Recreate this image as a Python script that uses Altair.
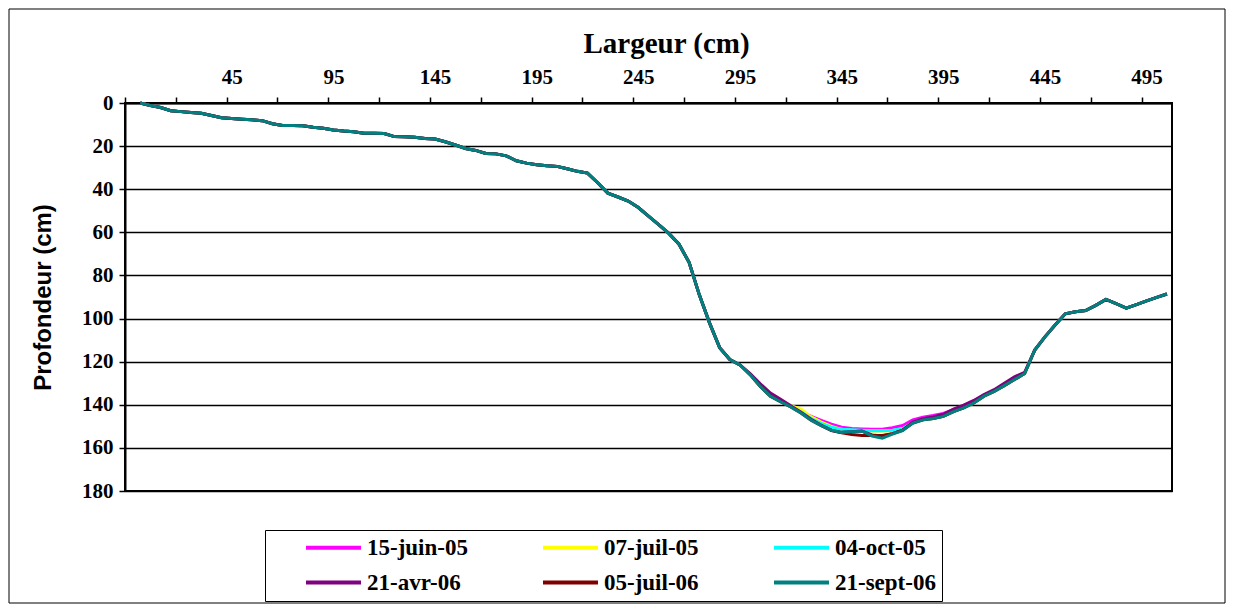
import altair as alt
import pandas as pd

# Category positions (cm) along the cross-section
largeur = [0, 5, 10, 15, 20, 25, 30, 35, 40, 45,
           50, 55, 60, 65, 70, 75, 80, 85, 90, 95,
           100, 105, 110, 115, 120, 125, 130, 135, 140, 145,
           150, 155, 160, 165, 170, 175, 180, 185, 190, 195,
           200, 205, 210, 215, 220, 225, 230, 235, 240, 245,
           250, 255, 260, 265, 270, 275, 280, 285, 290, 295,
           300, 305, 310, 315, 320, 325, 330, 335, 340, 345,
           350, 355, 360, 365, 370, 375, 380, 385, 390, 395,
           400, 405, 410, 415, 420, 425, 430, 435, 440, 445,
           450, 455, 460, 465, 470, 475, 480, 485, 490, 495,
           500, 505]

# Common part of the profile (all surveys coincide), cm 0..295
profil_debut = [0, 1.2, 2.1, 3.6, 4.0, 4.4, 4.8, 5.8, 6.8, 7.2,
                7.5, 7.8, 8.2, 9.6, 10.4, 10.4, 10.6, 11.3, 11.7, 12.5,
                13.0, 13.3, 14.0, 14.0, 14.2, 15.6, 15.7, 15.9, 16.5, 16.7,
                18.0, 19.5, 21.1, 22.0, 23.4, 23.6, 24.5, 26.8, 27.9, 28.6,
                29.1, 29.4, 30.5, 31.7, 32.5, 37.0, 41.8, 43.6, 45.5, 48.5,
                52.5, 56.4, 60.5, 65.5, 74.0, 89.0, 102.0, 113.5, 119.0, 121.5]

# Bottom of the channel, cm 300..435, one list per survey
fond_15juin05 = [126.0, 131.5, 136.0, 138.4, 140.5, 143.0, 145.4, 147.3, 149.0, 150.4,
                 151.0, 151.2, 151.3, 151.3, 150.6, 149.6, 147.0, 145.8, 145.0, 144.0,
                 142.3, 140.4, 138.3, 135.5, 133.5, 131.0, 128.3, 125.5]
fond_07juil05 = [126.0, 131.5, 136.0, 138.5, 140.4, 142.0, 145.6, 148.0, 150.0, 151.4,
                 151.8, 152.0, 152.2, 152.2, 152.0, 151.3, 148.3, 147.0, 146.4, 145.4,
                 143.2, 141.4, 139.2, 136.0, 133.8, 131.1, 128.3, 125.5]
fond_04oct05 = [126.0, 131.5, 136.0, 138.6, 140.9, 143.3, 146.4, 148.6, 150.4, 151.3,
                151.6, 151.8, 152.0, 152.0, 151.8, 151.0, 148.5, 147.0, 146.4, 145.4,
                143.2, 141.4, 139.2, 136.0, 133.8, 131.1, 128.3, 125.5]
fond_21avr06 = [125.5, 130.3, 134.6, 137.4, 140.5, 143.5, 146.7, 149.5, 151.8, 152.8,
                152.5, 152.2, 154.0, 154.5, 153.4, 151.8, 148.0, 146.5, 145.6, 144.4,
                142.0, 140.2, 138.0, 135.3, 133.0, 130.0, 127.0, 125.0]
fond_05juil06 = [126.0, 131.5, 136.0, 138.6, 141.0, 143.8, 147.2, 149.7, 152.0, 153.0,
                 153.8, 154.2, 154.3, 154.2, 153.4, 151.8, 148.5, 147.0, 146.4, 145.4,
                 143.2, 141.4, 139.2, 136.0, 133.8, 131.1, 128.3, 125.5]
fond_21sept06 = [126.0, 131.5, 136.0, 138.6, 141.0, 143.8, 147.2, 149.7, 151.8, 152.8,
                 152.5, 152.2, 154.5, 155.5, 153.6, 152.0, 148.5, 147.0, 146.4, 145.4,
                 143.2, 141.4, 139.2, 136.0, 133.8, 131.1, 128.3, 125.5]

# Right bank, cm 440..505 (all surveys coincide)
profil_fin = [114.6, 108.5, 103.0, 97.8, 96.8, 96.3, 93.9, 91.1, 93.1, 95.2,
              93.5, 91.8, 90.2, 88.6]

series_names = ["15-juin-05", "07-juil-05", "04-oct-05", "21-avr-06", "05-juil-06", "21-sept-06"]
series_colors = ["#FF00FF", "#FFFF00", "#00FFFF", "#800080", "#800000", "#008080"]
fonds = [fond_15juin05, fond_07juil05, fond_04oct05, fond_21avr06, fond_05juil06, fond_21sept06]

# axis tick positions (between categories) and label values
x_ticks = [-7.5, 17.5, 42.5, 67.5, 92.5, 117.5, 142.5, 167.5, 192.5, 217.5, 242.5,
           267.5, 292.5, 317.5, 342.5, 367.5, 392.5, 417.5, 442.5, 467.5, 492.5]
x_labels = [45, 95, 145, 195, 245, 295, 345, 395, 445, 495]
y_ticks = [0, 20, 40, 60, 80, 100, 120, 140, 160, 180]

rows = []
for k, (name, fond) in enumerate(zip(series_names, fonds)):
    prof = profil_debut + fond + profil_fin
    for xv, d in zip(largeur, prof):
        rows.append({"largeur": xv, "profondeur": d, "serie": name, "ordre": k})
df = pd.DataFrame(rows)

serif = "Liberation Serif"
sans = "Liberation Sans"

lines = alt.Chart(df).mark_line(strokeWidth=3).encode(
    x=alt.X(
        "largeur:Q",
        scale=alt.Scale(domain=[-7.5, 507.5], nice=False, zero=False),
        axis=alt.Axis(
            orient="top",
            values=x_ticks + x_labels,
            labelExpr="datum.value % 50 == 45 ? format(datum.value, 'd') : ''",
            tickOpacity={"condition": {"test": "datum.value % 50 == 45", "value": 0}, "value": 1},
            labelOverlap=False,
            labelFlush=False,
            grid=False,
            title="Largeur (cm)",
            titleFont=serif,
            titleFontSize=29,
            titleFontWeight="bold",
            titleColor="black",
            titleX=541,
            titlePadding=8,
            labelFont=serif,
            labelFontSize=21,
            labelFontWeight="bold",
            labelColor="black",
            labelPadding=10,
            tickSize=6,
            tickColor="black",
            tickWidth=1.5,
            domainColor="black",
            domainWidth=2,
        ),
    ),
    y=alt.Y(
        "profondeur:Q",
        scale=alt.Scale(domain=[0, 180], reverse=True, nice=False, zero=False),
        axis=alt.Axis(
            values=y_ticks,
            grid=True,
            gridColor="black",
            gridWidth=1.5,
            gridOpacity=1,
            title="Profondeur (cm)",
            titleFont=sans,
            titleFontSize=24,
            titleFontWeight="bold",
            titleColor="black",
            titlePadding=26,
            labelFont=serif,
            labelFontSize=21,
            labelFontWeight="bold",
            labelColor="black",
            labelPadding=6,
            tickSize=6,
            tickColor="black",
            tickWidth=1.5,
            domainColor="black",
            domainWidth=2,
        ),
    ),
    color=alt.Color(
        "serie:N",
        scale=alt.Scale(domain=series_names, range=series_colors),
        legend=alt.Legend(
            title=None,
            orient="none",
            legendX=140,
            legendY=427,
            columns=3,
            direction="horizontal",
            symbolType="M-4,0H4",
            symbolSize=189,
            symbolStrokeWidth=4,
            labelFont=serif,
            labelFontSize=23,
            labelFontWeight="bold",
            labelColor="black",
            labelOffset=22,
            columnPadding=40,
            rowPadding=11,
            padding=6,
            symbolOffset=51,
            strokeColor="black",
            fillColor="white",
        ),
    ),
    order=alt.Order("ordre:Q"),
    detail="serie:N",
)

frame = alt.Chart(pd.DataFrame({"f": [0]})).mark_rect(
    fillOpacity=0, stroke="black", strokeWidth=1
).encode(
    x=alt.value(-116), x2=alt.value(1100), y=alt.value(-94), y2=alt.value(500)
)

chart = alt.layer(frame, lines).properties(
    width=1047,
    height=388,
    autosize=alt.AutoSizeParams(type="none"),
    padding={"left": 117, "top": 95, "right": 54, "bottom": 113},
    background="white",
).configure_view(stroke="black", strokeWidth=2)

chart.save("out.html", embed_options={"renderer": "svg", "actions": False})
